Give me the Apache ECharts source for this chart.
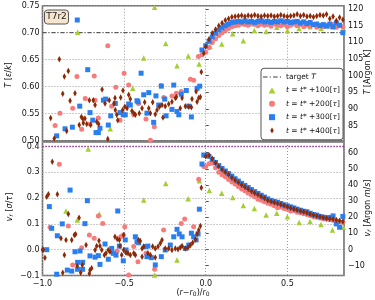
<!DOCTYPE html>
<html><head><meta charset="utf-8">
<script src="https://cdn.jsdelivr.net/npm/echarts@6/dist/echarts.min.js"></script>
<style>html,body{margin:0;padding:0;background:#fff}#c{width:375px;height:300px}</style>
</head><body><div id="c"></div>
<script>
// ---------- data ----------
const xMin = -1.0, xMax = 0.847;
const targetT = 0.70;
const vrRef = 0.40;
const rightX = [0.00,0.02,0.04,0.06,0.08,0.10,0.12,0.14,0.16,0.18,0.20,0.22,0.24,0.26,0.28,0.30,0.32,0.34,0.36,0.38,0.40,0.42,0.44,0.46,0.48,0.50,0.52,0.54,0.56,0.58,0.60,0.62,0.64,0.66,0.68,0.70,0.72,0.74,0.76,0.78,0.80,0.82,0.84];

// temperature, t*+100 (sparse)
const temp100 = [[-0.784,0.701],[-0.585,0.522],[-0.447,0.597],[-0.380,0.653],[-0.313,0.747],[-0.245,0.680],[-0.176,0.639],[-0.107,0.657],[-0.041,0.642],[0.026,0.675],[0.098,0.679],[0.165,0.698],[0.230,0.685],[0.298,0.704],[0.370,0.702],[0.435,0.710],[0.500,0.704],[0.572,0.708],[0.639,0.711],[0.706,0.708],[0.778,0.711],[0.843,0.708]];
// temperature, left side scatter
const temp200Left = [[-0.923,0.528],[-0.893,0.551],[-0.815,0.560],[-0.789,0.619],[-0.760,0.521],[-0.738,0.578],[-0.709,0.531],[-0.683,0.620],[-0.678,0.575],[-0.658,0.542],[-0.600,0.676],[-0.576,0.564],[-0.551,0.599],[-0.525,0.538],[-0.500,0.625],[-0.472,0.603],[-0.441,0.548],[-0.411,0.569],[-0.366,0.540],[-0.339,0.501],[-0.315,0.526],[-0.274,0.602],[-0.257,0.580],[-0.207,0.583],[-0.180,0.588],[-0.150,0.591],[-0.094,0.614],[-0.074,0.612],[-0.045,0.656],[-0.023,0.659]];
const temp300Left = [[-0.913,0.509],[-0.862,0.522],[-0.817,0.525],[-0.787,0.7235],[-0.772,0.564],[-0.723,0.6315],[-0.709,0.552],[-0.692,0.538],[-0.672,0.515],[-0.658,0.515],[-0.648,0.523],[-0.627,0.575],[-0.613,0.577],[-0.597,0.529],[-0.582,0.546],[-0.554,0.569],[-0.525,0.552],[-0.505,0.548],[-0.493,0.548],[-0.472,0.568],[-0.462,0.566],[-0.421,0.574],[-0.415,0.572],[-0.396,0.625],[-0.380,0.585],[-0.360,0.551],[-0.349,0.589],[-0.319,0.534],[-0.305,0.583],[-0.288,0.566],[-0.272,0.601],[-0.251,0.577],[-0.243,0.546],[-0.207,0.558],[-0.196,0.603],[-0.176,0.554],[-0.165,0.548],[-0.150,0.586],[-0.119,0.593],[-0.104,0.564],[-0.088,0.544],[-0.053,0.597],[-0.037,0.601],[-0.023,0.668]];
const temp400Left = [[-0.950,0.542],[-0.928,0.504],[-0.897,0.651],[-0.876,0.587],[-0.866,0.619],[-0.852,0.518],[-0.842,0.629],[-0.831,0.574],[-0.801,0.588],[-0.775,0.529],[-0.762,0.544],[-0.754,0.541],[-0.750,0.533],[-0.740,0.541],[-0.729,0.531],[-0.713,0.575],[-0.705,0.529],[-0.689,0.575],[-0.678,0.566],[-0.668,0.535],[-0.656,0.531],[-0.635,0.595],[-0.617,0.569],[-0.600,0.503],[-0.591,0.575],[-0.562,0.569],[-0.556,0.579],[-0.554,0.557],[-0.545,0.548],[-0.539,0.538],[-0.521,0.580],[-0.509,0.557],[-0.507,0.593],[-0.496,0.563],[-0.482,0.560],[-0.472,0.585],[-0.462,0.577],[-0.452,0.555],[-0.441,0.551],[-0.431,0.548],[-0.407,0.551],[-0.390,0.560],[-0.374,0.571],[-0.349,0.560],[-0.339,0.551],[-0.325,0.571],[-0.309,0.549],[-0.298,0.557],[-0.284,0.563],[-0.268,0.566],[-0.262,0.543],[-0.248,0.564],[-0.227,0.568],[-0.207,0.572],[-0.186,0.579],[-0.180,0.581],[-0.156,0.560],[-0.145,0.579],[-0.125,0.564],[-0.104,0.563],[-0.088,0.562],[-0.084,0.577],[-0.059,0.591],[-0.053,0.572],[-0.043,0.579],[-0.033,0.581],[-0.027,0.627],[-0.012,0.662]];
// temperature, right side (at rightX)
const temp200Right = [0.664,0.672,0.682,0.689,0.695,0.700,0.704,0.708,0.711,0.713,0.714,0.716,0.715,0.714,0.716,0.715,0.713,0.716,0.714,0.715,0.712,0.716,0.714,0.713,0.715,0.711,0.714,0.716,0.713,0.715,0.711,0.714,0.712,0.715,0.710,0.713,0.711,0.714,0.712,0.715,0.710,0.713,0.711];
const temp300Right = [0.676,0.684,0.692,0.699,0.705,0.709,0.713,0.716,0.719,0.720,0.721,0.720,0.722,0.720,0.721,0.719,0.721,0.722,0.720,0.721,0.719,0.721,0.720,0.722,0.720,0.721,0.719,0.720,0.721,0.718,0.720,0.717,0.719,0.715,0.716,0.713,0.715,0.712,0.716,0.711,0.718,0.714,0.700];
const temp400Right = [0.674,0.688,0.699,0.706,0.713,0.718,0.723,0.726,0.729,0.730,0.731,0.732,0.730,0.732,0.731,0.733,0.731,0.730,0.732,0.731,0.732,0.730,0.731,0.733,0.731,0.730,0.731,0.732,0.734,0.731,0.733,0.730,0.731,0.729,0.731,0.733,0.732,0.734,0.726,0.730,0.722,0.728,0.724];

// radial velocity, t*+100 (sparse)
const vel100 = [[-0.856,0.150],[-0.787,0.115],[-0.720,0.390],[-0.652,0.138],[-0.380,0.193],[-0.313,-0.098],[-0.245,0.257],[-0.176,-0.040],[-0.108,0.197],[-0.039,0.267],[0.022,0.229],[0.098,0.219],[0.165,0.202],[0.230,0.171],[0.298,0.160],[0.370,0.134],[0.435,0.141],[0.500,0.128],[0.572,0.105],[0.639,0.109],[0.706,0.098],[0.776,0.076],[0.843,0.087]];
const vel200Left = [[-0.954,0.087],[-0.897,0.331],[-0.842,0.092],[-0.815,-0.059],[-0.760,0.008],[-0.713,0.057],[-0.683,0.044],[-0.658,0.131],[-0.631,0.102],[-0.542,-0.005],[-0.521,0.050],[-0.505,0.057],[-0.496,0.089],[-0.472,-0.098],[-0.441,0.012],[-0.415,-0.047],[-0.366,-0.014],[-0.313,-0.076],[-0.258,0.076],[-0.150,0.102],[-0.129,0.119],[-0.074,0.089],[-0.043,0.273],[-0.012,0.322]];
const vel300Left = [[-0.974,0.0],[-0.958,0.167],[-0.944,0.083],[-0.913,-0.095],[-0.909,0.054],[-0.879,0.100],[-0.848,-0.079],[-0.831,0.231],[-0.821,-0.083],[-0.801,-0.008],[-0.785,-0.049],[-0.785,-0.076],[-0.770,-0.005],[-0.754,-0.049],[-0.754,-0.076],[-0.740,0.101],[-0.725,0.190],[-0.709,-0.024],[-0.678,-0.029],[-0.658,-0.023],[-0.648,-0.057],[-0.617,0.022],[-0.597,-0.037],[-0.576,0.005],[-0.566,-0.014],[-0.550,-0.021],[-0.539,0.150],[-0.529,0.014],[-0.505,-0.043],[-0.493,0.038],[-0.488,-0.001],[-0.431,0.050],[-0.421,0.031],[-0.411,0.027],[-0.370,0.012],[-0.360,-0.027],[-0.354,0.014],[-0.333,-0.031],[-0.309,-0.059],[-0.272,-0.027],[-0.248,-0.001],[-0.217,0.018],[-0.196,0.050],[-0.176,0.079],[-0.162,0.061],[-0.145,0.050],[-0.125,0.005],[-0.104,0.018],[-0.088,0.064],[-0.074,0.050],[-0.059,0.038],[-0.047,0.061],[-0.039,0.157],[-0.023,0.332],[-0.012,0.367]];
const vel400Left = [[-1.0,0.0],[-0.995,0.0],[-0.985,-0.031],[-0.974,0.205],[-0.964,0.215],[-0.940,0.341],[-0.909,0.215],[-0.887,0.044],[-0.876,-0.089],[-0.866,-0.021],[-0.856,0.038],[-0.842,0.138],[-0.821,0.038],[-0.805,0.057],[-0.797,0.060],[-0.787,-0.063],[-0.776,0.124],[-0.766,-0.089],[-0.756,-0.059],[-0.733,0.018],[-0.713,-0.092],[-0.709,-0.079],[-0.699,-0.072],[-0.678,-0.001],[-0.668,0.014],[-0.654,0.035],[-0.648,0.014],[-0.637,-0.001],[-0.621,-0.021],[-0.611,-0.014],[-0.597,-0.001],[-0.586,-0.008],[-0.556,0.050],[-0.542,0.041],[-0.529,0.038],[-0.525,0.014],[-0.515,-0.021],[-0.503,0.057],[-0.503,-0.001],[-0.488,-0.012],[-0.476,-0.014],[-0.462,-0.021],[-0.441,-0.014],[-0.431,-0.021],[-0.411,0.038],[-0.401,0.034],[-0.390,0.005],[-0.390,-0.027],[-0.380,0.012],[-0.354,-0.014],[-0.339,-0.021],[-0.325,0.012],[-0.309,0.005],[-0.309,-0.030],[-0.292,0.012],[-0.278,0.025],[-0.268,0.038],[-0.248,0.005],[-0.227,0.005],[-0.207,-0.001],[-0.186,0.005],[-0.170,0.002],[-0.156,0.009],[-0.145,0.014],[-0.125,0.005],[-0.108,0.009],[-0.094,0.018],[-0.080,0.027],[-0.063,0.040],[-0.053,0.061],[-0.043,0.076],[-0.033,0.092],[-0.027,0.240]];
const vel200Right = [0.322,0.333,0.335,0.318,0.300,0.290,0.283,0.272,0.262,0.255,0.245,0.235,0.228,0.220,0.212,0.205,0.196,0.192,0.186,0.180,0.176,0.170,0.163,0.165,0.160,0.157,0.150,0.152,0.145,0.143,0.139,0.136,0.133,0.128,0.126,0.123,0.120,0.118,0.116,0.114,0.112,0.108,0.106];
const vel300Right = [0.365,0.362,0.350,0.338,0.326,0.315,0.305,0.295,0.285,0.275,0.266,0.257,0.249,0.241,0.233,0.225,0.218,0.211,0.204,0.197,0.191,0.187,0.184,0.179,0.174,0.170,0.166,0.162,0.157,0.153,0.149,0.147,0.141,0.136,0.134,0.129,0.126,0.124,0.125,0.131,0.100,0.087,0.129];
const vel400Right = [0.362,0.366,0.352,0.336,0.322,0.310,0.300,0.290,0.279,0.269,0.260,0.251,0.243,0.235,0.227,0.220,0.213,0.206,0.199,0.192,0.187,0.183,0.179,0.175,0.171,0.166,0.162,0.158,0.154,0.150,0.147,0.143,0.138,0.134,0.131,0.128,0.125,0.122,0.120,0.118,0.115,0.112,0.109];

const seriesNames = ['target T','t100','t200','t300','t400'];
const legendLabels = {'target T':'target {i|T}','t100':'{i|t} = {i|t}* +100[{i|τ}]','t200':'{i|t} = {i|t}* +200[{i|τ}]','t300':'{i|t} = {i|t}* +300[{i|τ}]','t400':'{i|t} = {i|t}* +400[{i|τ}]'};

// ---------- chart ----------
const withRight = (left, vals) => left.concat(rightX.map((x, i) => [x, vals[i]]));
const FONT = 'DejaVu Sans';
const C100 = '#a3d030', C200 = '#f77b7b', C300 = '#2a7ff0', C400 = '#8c2a08';
const minus = s => String(s).replace('-', '\u2212');
const gridL = 42.5, gridR = 31;
const thinDiamond = 'path://M2,0 L4,3.5 L2,7 L0,3.5 Z';
const dashDotIcon = 'path://M0,0 L4,0 L4,1 L0,1 Z M6,0 L7,0 L7,1 L6,1 Z M9,0 L13,0 L13,1 L9,1 Z M15,0 L16,0 L16,1 L15,1 Z';
const legendIcons = {
  'target T': dashDotIcon,
  't100': 'path://M3,0 L6,5.2 L0,5.2 Z',
  't200': 'path://M5,2.5 A2.5,2.5 0 1 1 0,2.5 A2.5,2.5 0 1 1 5,2.5 Z',
  't300': 'path://M0,0 L5,0 L5,5 L0,5 Z',
  't400': thinDiamond};

const dotted = {show: true, lineStyle: {color: '#9a9a9a', type: [1, 2], width: 1}};
function xAxisDef(gi, labels) {
  return {type: 'value', gridIndex: gi, min: xMin, max: xMax, interval: 0.5,
    axisLine: {show: false}, axisTick: {show: false}, splitLine: dotted,
    axisLabel: {show: labels, fontFamily: FONT, fontSize: 8, color: '#111', margin: 4,
      formatter: v => Math.abs(v * 2 - Math.round(v * 2)) < 1e-6 ? minus(v.toFixed(1)) : ''}};
}
const scatter = (name, gi, data, symbol, size, color, z) => ({
  name, type: 'scatter', xAxisIndex: gi, yAxisIndex: gi, data, symbol, symbolSize: size,
  itemStyle: {color, opacity: 1}, clip: true, z, silent: true});

const option = {
  animation: false,
  grid: [
    {left: gridL, right: gridR, top: 5.7, height: 135, show: true, borderColor: '#6e6e6e', borderWidth: 1.6},
    {left: gridL, right: gridR, top: 142, height: 133.5, show: true, borderColor: '#6e6e6e', borderWidth: 1.6},
    {left: gridL, right: gridR, top: 9, height: 133.3, show: false},
    {left: gridL, right: gridR, top: 152.7, height: 113, show: false}
  ],
  xAxis: [xAxisDef(0, false), xAxisDef(1, true),
    {type: 'value', gridIndex: 2, min: xMin, max: xMax, show: false},
    {type: 'value', gridIndex: 3, min: xMin, max: xMax, show: false}],
  yAxis: [
    {type: 'value', gridIndex: 0, min: 0.5, max: 0.75, interval: 0.05, axisLine: {show: false}, axisTick: {show: false},
      splitLine: dotted, axisLabel: {fontFamily: FONT, fontSize: 8, color: '#111', margin: 3, formatter: v => v.toFixed(2)}},
    {type: 'value', gridIndex: 1, min: -0.1, max: 0.4174, interval: 0.1, axisLine: {show: false}, axisTick: {show: false},
      splitLine: dotted, axisLabel: {fontFamily: FONT, fontSize: 8, color: '#111', margin: 3, showMaxLabel: false,
        formatter: v => Math.abs(v * 10 - Math.round(v * 10)) < 1e-6 ? minus(v.toFixed(1)) : ''}},
    {type: 'value', gridIndex: 2, position: 'right', min: 80, max: 120, interval: 5, axisLine: {show: false},
      axisTick: {show: true, length: 3, lineStyle: {color: '#555'}}, splitLine: {show: false},
      axisLabel: {fontFamily: FONT, fontSize: 8, color: '#111', margin: 4, showMinLabel: false}},
    {type: 'value', gridIndex: 3, position: 'right', min: -10, max: 60, interval: 10, axisLine: {show: false},
      axisTick: {show: true, length: 3, lineStyle: {color: '#555'}}, splitLine: {show: false},
      axisLabel: {fontFamily: FONT, fontSize: 8, color: '#111', margin: 4, formatter: v => minus(v)}}
  ],
  legend: {
    data: seriesNames.map(n => ({name: n, icon: legendIcons[n]})), orient: 'vertical', left: 261, top: 68.3,
    padding: [2.5, 3, 3, 2], itemWidth: 18, itemHeight: 6, itemGap: 1,
    backgroundColor: '#fff', borderColor: '#555', borderWidth: 1, borderRadius: 3,
    formatter: n => legendLabels[n],
    textStyle: {fontFamily: FONT, fontSize: 7.5, color: '#111', lineHeight: 12.4,
      rich: {i: {fontStyle: 'italic', fontFamily: FONT, fontSize: 7.5, lineHeight: 12.4}}}
  },
  series: [
    {name: 'target T', type: 'line', xAxisIndex: 0, yAxisIndex: 0, data: [[xMin, targetT], [xMax, targetT]],
      symbol: 'none', lineStyle: {color: '#3c3c3c', width: 1, type: [4, 2, 1, 2]}, itemStyle: {color: '#3c3c3c'}, z: 3, silent: true},
    {name: 'ref', type: 'line', xAxisIndex: 1, yAxisIndex: 1, data: [[xMin, vrRef], [xMax, vrRef]],
      symbol: 'none', lineStyle: {color: '#8a1a8a', width: 1.6, type: [1.2, 1.8]}, z: 3, silent: true},
    scatter('t100', 0, temp100, 'triangle', 5.5, C100, 4),
    scatter('t200', 0, withRight(temp200Left, temp200Right), 'circle', 5, C200, 5),
    scatter('t300', 0, withRight(temp300Left, temp300Right), 'rect', 5, C300, 6),
    scatter('t400', 0, withRight(temp400Left, temp400Right), thinDiamond, [3.6, 6.5], C400, 7),
    scatter('t100', 1, vel100, 'triangle', 5.5, C100, 4),
    scatter('t200', 1, withRight(vel200Left, vel200Right), 'circle', 5, C200, 5),
    scatter('t300', 1, withRight(vel300Left, vel300Right), 'rect', 5, C300, 6),
    scatter('t400', 1, withRight(vel400Left, vel400Right), thinDiamond, [3.6, 6.5], C400, 7)
  ],
  graphic: [
    {type: 'rect', shape: {x: 44.5, y: 10, width: 24, height: 14, r: 3}, style: {fill: '#f7e4cc', stroke: '#555', lineWidth: 1}, z: 100},
    {type: 'text', x: 56.5, y: 17, z: 101, style: {text: 'T7r2', fontFamily: FONT, fontSize: 9, fill: '#222', align: 'center', verticalAlign: 'middle'}},
    {type: 'text', x: 9, y: 75, rotation: Math.PI / 2, z: 101, style: {text: '{i|T} [{i|ε}/{i|k}]', fontFamily: FONT, fontSize: 8, fill: '#111', align: 'center', verticalAlign: 'middle',
      rich: {i: {fontStyle: 'italic', fontFamily: FONT, fontSize: 8}}}},
    {type: 'text', x: 10, y: 207, rotation: Math.PI / 2, z: 101, style: {text: '{i|v}{s|r} [{i|σ}/{i|τ}]', fontFamily: FONT, fontSize: 8, fill: '#111', align: 'center', verticalAlign: 'middle',
      rich: {i: {fontStyle: 'italic', fontFamily: FONT, fontSize: 8}, s: {fontStyle: 'italic', fontFamily: FONT, fontSize: 6, verticalAlign: 'bottom', padding: [3, 0, 0, 0]}}}},
    {type: 'text', x: 368, y: 72, rotation: Math.PI / 2, z: 101, style: {text: '{i|T} [Argon K]', fontFamily: FONT, fontSize: 8, fill: '#111', align: 'center', verticalAlign: 'middle',
      rich: {i: {fontStyle: 'italic', fontFamily: FONT, fontSize: 8}}}},
    {type: 'text', x: 368, y: 208, rotation: Math.PI / 2, z: 101, style: {text: '{i|v}{s|r} [Argon {i|m}/{i|s}]', fontFamily: FONT, fontSize: 8, fill: '#111', align: 'center', verticalAlign: 'middle',
      rich: {i: {fontStyle: 'italic', fontFamily: FONT, fontSize: 8}, s: {fontStyle: 'italic', fontFamily: FONT, fontSize: 6, verticalAlign: 'bottom', padding: [3, 0, 0, 0]}}}},
    {type: 'text', x: 193, y: 293, z: 101, style: {text: '({i|r}\u2212{i|r}{s|0})/{i|r}{s|0}', fontFamily: FONT, fontSize: 8, fill: '#111', align: 'center', verticalAlign: 'middle',
      rich: {i: {fontStyle: 'italic', fontFamily: FONT, fontSize: 8}, s: {fontFamily: FONT, fontSize: 6, verticalAlign: 'bottom', padding: [3, 0, 0, 0]}}}}
  ]
};
const chart = echarts.init(document.getElementById('c'), null, {renderer: 'canvas'});
chart.setOption(option);
</script></body></html>
